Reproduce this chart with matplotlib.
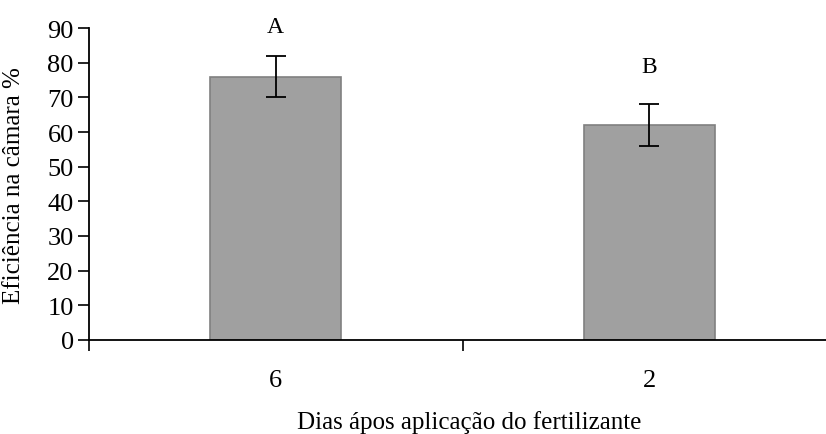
import matplotlib.pyplot as plt

# values
dias = ['6', '2']
eficiencia = [76, 62]
erro = [5.8, 6]
letras = ['A', 'B']
letra_y = [90.3, 79]

plt.rcParams['font.family'] = ['Liberation Serif', 'DejaVu Serif']

fig = plt.figure(figsize=(8.26, 4.35), dpi=100)
# axes box in pixels: left 89, right 836 (past the edge), bottom 341, top 29
W, H = 826, 435
ax = fig.add_axes([89 / W, (H - 341) / H, (836 - 89) / W, (341 - 29) / H])

pos = list(range(len(dias)))
ax.bar(pos, eficiencia, width=0.35, color='#a0a0a0', edgecolor='#808080', linewidth=1.2, zorder=2)
ax.errorbar(pos, eficiencia, yerr=erro, fmt='none', ecolor='black', elinewidth=1.3,
            capsize=7, capthick=1.3, zorder=3)
for x, t, y in zip(pos, letras, letra_y):
    ax.text(x, y, t, ha='center', va='center', fontsize=17, clip_on=False)

ax.set_xlim(-0.5, 1.5)
ax.set_ylim(0, 90)
ax.set_yticks(range(0, 91, 10))
ax.tick_params(axis='y', direction='out', length=8, width=1.2, labelsize=19, pad=3)

# category boundaries get the ticks, labels sit at the centres
ax.set_xticks([-0.5, 0.5, 1.5])
ax.set_xticklabels([])
ax.set_xticks(pos, minor=True)
ax.set_xticklabels(dias, minor=True)
ax.tick_params(axis='x', which='major', direction='out', length=8, width=1.2)
ax.tick_params(axis='x', which='minor', length=0, labelsize=19, pad=21)

for s in ['top', 'right']:
    ax.spines[s].set_visible(False)
for s in ['left', 'bottom']:
    ax.spines[s].set_linewidth(1.3)

ax.set_xlabel('Dias ápos aplicação do fertilizante', fontsize=18)
ax.set_ylabel('Eficiência na câmara %', fontsize=18)
ax.xaxis.set_label_coords((469 - 89) / (836 - 89), -(411 - 341) / (341 - 29))
ax.yaxis.set_label_coords(-(89 - 25) / (836 - 89), (341 - 186) / (341 - 29))

plt.savefig('out.png', dpi=100)
